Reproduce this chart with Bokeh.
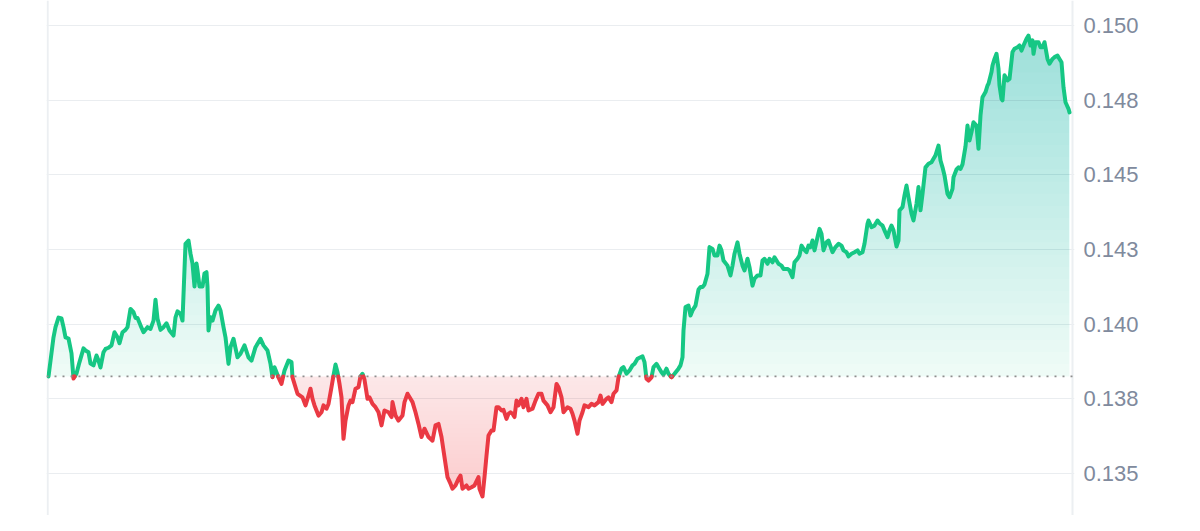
import numpy as np
from bokeh.plotting import figure
from bokeh.models import Range1d, FixedTicker, Span
from bokeh.embed import file_html
from bokeh.resources import INLINE

# minutes since the start of the window
times = [
    0, 5, 7, 10, 13, 15, 17, 20, 23, 25, 28, 31, 35, 37, 40, 42, 45, 48, 50, 52,
    55, 57, 60, 63, 66, 69, 71, 74, 77, 79, 82, 85, 87, 89, 92, 95, 99, 102, 105, 107,
    109, 112, 115, 118, 121, 125, 127, 129, 132,
    134, 137, 140, 142, 144, 146, 148, 149, 151, 154, 156, 158, 159, 160, 162, 164, 167, 170, 172, 175,
    177, 180, 182, 185, 189, 192, 196, 200, 203, 207, 212, 215, 219, 222, 224, 226, 230, 233, 236, 240,
    243, 244, 249, 254,
    257, 260, 262, 264, 266, 270, 273, 275, 278, 280, 283, 285, 287, 289, 291, 293, 295, 297, 300, 302,
    304, 307, 310, 312, 314, 316, 319, 321, 324, 327, 330, 333, 336, 340, 343, 344, 347, 350, 354, 356,
    359, 362, 364, 367, 370, 373, 376, 380, 384, 387, 390, 393, 395,
    399, 402, 404, 407, 410, 412, 414, 418, 420, 423, 426, 430, 431, 434, 436, 438, 440, 443, 445, 448,
    450, 453, 455, 458, 460, 462, 464, 466, 468, 470, 473, 475, 478, 480, 484, 487, 490, 493, 495, 499,
    502, 505, 508, 510, 513, 515, 519, 522, 524, 526,
    529, 531, 534, 536, 540, 543, 546, 550, 552, 554, 558, 560, 563, 565, 568, 570, 573, 575, 578, 581,
    584, 586, 589, 592, 594, 596, 598, 600, 603, 605, 608, 610, 613, 615, 618, 620, 623, 626, 630, 632,
    634, 635, 637, 640, 642, 644, 647, 650, 652, 654, 656, 659,
    661, 664, 666, 669, 671, 673, 675, 679, 682, 684, 686, 689, 691, 694, 696, 699, 701, 704, 706, 709,
    712, 714, 716, 719, 721, 724, 726, 730, 733, 735, 739, 741, 744, 746, 749, 751, 753, 755, 758, 760,
    762, 764, 766, 769, 771, 773, 775, 778, 780,
    784, 787, 790, 793, 795, 798, 800, 803, 806, 809, 811, 814, 816, 819, 820, 823, 826, 829, 831, 834,
    836, 839, 841, 843, 845, 848, 850, 851, 854, 856, 858, 860, 863, 865, 868, 870, 872, 874, 877, 880,
    883, 885, 887, 890, 892, 894, 896, 899, 901, 904, 905, 908, 910, 912, 914,
    917, 919, 921, 923, 925, 928, 930, 932, 934, 937, 939, 940, 943, 944, 946, 948, 950, 951, 953, 954,
    956, 959, 961, 964, 966, 969, 971, 973, 975, 978, 980, 982, 984, 985, 987, 990, 992, 994, 996, 999,
    1001, 1004, 1006, 1009, 1011, 1013, 1015, 1017, 1020, 1021,
]

prices = [
    0.13825, 0.13956, 0.13990, 0.14022, 0.14019, 0.13990, 0.13956, 0.13952, 0.13902, 0.13818,
    0.13835, 0.13873, 0.13919, 0.13912, 0.13906, 0.13868, 0.13862, 0.13895, 0.13878, 0.13855,
    0.13906, 0.13917, 0.13921, 0.13929, 0.13973, 0.13956, 0.13936, 0.13973, 0.13981, 0.13990,
    0.14051, 0.14040, 0.14021, 0.14021, 0.13996, 0.13973, 0.13990, 0.13984, 0.14012, 0.14082,
    0.14018, 0.13981, 0.13990, 0.14003, 0.13979, 0.13962, 0.14023, 0.14043, 0.14035,
    0.14012, 0.14269, 0.14280, 0.14236, 0.14203, 0.14126, 0.14203, 0.14180, 0.14126, 0.14126,
    0.14170, 0.14174, 0.14126, 0.13979, 0.14023, 0.14012, 0.14046, 0.14062, 0.14046, 0.13990,
    0.13956, 0.13867, 0.13923, 0.13951, 0.13889, 0.13901, 0.13929, 0.13889, 0.13878, 0.13923,
    0.13951, 0.13929, 0.13912, 0.13867, 0.13822, 0.13856, 0.13822, 0.13800, 0.13845, 0.13878,
    0.13873, 0.13822, 0.13767, 0.13755,
    0.13728, 0.13761, 0.13784, 0.13750, 0.13728, 0.13694, 0.13705, 0.13728, 0.13717, 0.13733,
    0.13789, 0.13828, 0.13865, 0.13839, 0.13800, 0.13755, 0.13616, 0.13677, 0.13728, 0.13744,
    0.13739, 0.13784, 0.13789, 0.13825, 0.13834, 0.13814, 0.13750, 0.13755, 0.13733, 0.13722,
    0.13705, 0.13661, 0.13711, 0.13705, 0.13689, 0.13739, 0.13694, 0.13677, 0.13694, 0.13739,
    0.13767, 0.13750, 0.13739, 0.13705, 0.13666, 0.13622, 0.13650, 0.13622, 0.13610, 0.13661,
    0.13666, 0.13622, 0.13577,
    0.13488, 0.13466, 0.13449, 0.13460, 0.13482, 0.13493, 0.13449, 0.13460, 0.13449, 0.13454,
    0.13460, 0.13488, 0.13449, 0.13423, 0.13488, 0.13560, 0.13627, 0.13644, 0.13644, 0.13722,
    0.13722, 0.13711, 0.13713, 0.13683, 0.13700, 0.13705, 0.13700, 0.13689, 0.13744, 0.13728,
    0.13750, 0.13722, 0.13750, 0.13711, 0.13717, 0.13744, 0.13767, 0.13767, 0.13744, 0.13728,
    0.13705, 0.13722, 0.13800, 0.13789, 0.13755, 0.13705, 0.13722, 0.13717, 0.13700, 0.13677,
    0.13633, 0.13677, 0.13705, 0.13728, 0.13722, 0.13733, 0.13728, 0.13739, 0.13761, 0.13733,
    0.13750, 0.13755, 0.13739, 0.13767, 0.13778, 0.13822, 0.13851, 0.13856, 0.13834, 0.13845,
    0.13862, 0.13867, 0.13884, 0.13889, 0.13892, 0.13873, 0.13817, 0.13811, 0.13822, 0.13856,
    0.13867, 0.13856, 0.13839, 0.13831, 0.13851, 0.13834, 0.13822, 0.13834, 0.13851, 0.13862,
    0.13889, 0.13979, 0.14057, 0.14062, 0.14029, 0.14046, 0.14062, 0.14116, 0.14124, 0.14124,
    0.14133, 0.14169,
    0.14258, 0.14252, 0.14230, 0.14230, 0.14263, 0.14247, 0.14213, 0.14196, 0.14163, 0.14196,
    0.14236, 0.14274, 0.14236, 0.14196, 0.14180, 0.14219, 0.14191, 0.14129, 0.14152, 0.14163,
    0.14163, 0.14213, 0.14219, 0.14202, 0.14219, 0.14207, 0.14224, 0.14202, 0.14196, 0.14185,
    0.14185, 0.14180, 0.14157, 0.14207, 0.14219, 0.14230, 0.14263, 0.14252, 0.14241, 0.14263,
    0.14258, 0.14280, 0.14247, 0.14291, 0.14319, 0.14303, 0.14247, 0.14274, 0.14280,
    0.14241, 0.14258, 0.14269, 0.14263, 0.14247, 0.14241, 0.14227, 0.14236, 0.14241, 0.14247,
    0.14236, 0.14241, 0.14269, 0.14336, 0.14347, 0.14325, 0.14330, 0.14347, 0.14338, 0.14330,
    0.14314, 0.14291, 0.14314, 0.14330, 0.14314, 0.14260, 0.14280, 0.14381, 0.14392, 0.14431,
    0.14464, 0.14425, 0.14370, 0.14347, 0.14403, 0.14459, 0.14381, 0.14436, 0.14525, 0.14537,
    0.14542, 0.14554, 0.14565, 0.14598, 0.14548, 0.14525, 0.14498, 0.14436, 0.14425, 0.14453,
    0.14492, 0.14518, 0.14525, 0.14520, 0.14535,
    0.14595, 0.14665, 0.14615, 0.14643, 0.14676, 0.14665, 0.14587, 0.14699, 0.14760, 0.14777,
    0.14799, 0.14805, 0.14844, 0.14866, 0.14888, 0.14905, 0.14855, 0.14799, 0.14754, 0.14749,
    0.14833, 0.14816, 0.14821, 0.14911, 0.14922, 0.14927, 0.14933, 0.14916, 0.14933, 0.14955,
    0.14966, 0.14933, 0.14950, 0.14905, 0.14944, 0.14944, 0.14927, 0.14927, 0.14944, 0.14888,
    0.14872, 0.14888, 0.14894, 0.14899, 0.14888, 0.14877, 0.14793, 0.14743, 0.14721, 0.14709,
]

tick_values = [0.135, 0.1375, 0.14, 0.1425, 0.145, 0.1475, 0.15]
tick_labels = ["0.135", "0.138", "0.140", "0.143", "0.145", "0.148", "0.150"]

assert len(times) == len(prices), (len(times), len(prices))

GREEN = "#16c784"
RED = "#ea3943"

t = np.array(times, dtype=float)
v = np.array(prices, dtype=float)
base = prices[0]


def split_at(tt, vv, level):
    """Insert the points where the series crosses `level`."""
    ts, vs = [tt[0]], [vv[0]]
    for i in range(1, len(tt)):
        a = vv[i - 1] - level
        b = vv[i] - level
        if a * b < 0:
            f = a / (a - b)
            ts.append(tt[i - 1] + f * (tt[i] - tt[i - 1]))
            vs.append(level)
        ts.append(tt[i])
        vs.append(vv[i])
    return np.array(ts), np.array(vs)


p = figure(
    width=1184, height=515,
    x_range=Range1d(-2, 1026),
    y_range=Range1d(0.133594, 0.150836),
    x_axis_location=None, y_axis_location="right",
    toolbar_location=None, output_backend="svg",
    min_border_left=46, min_border_right=110,
    min_border_top=0, min_border_bottom=0,
)
p.outline_line_color = None
p.background_fill_color = "white"
p.border_fill_color = "white"
p.xgrid.visible = False

ticker = FixedTicker(ticks=tick_values)
p.yaxis.ticker = ticker
p.ygrid.ticker = ticker
p.ygrid.grid_line_color = "#eaedf0"
p.ygrid.grid_line_width = 1
p.yaxis.major_label_overrides = dict(zip(tick_values, tick_labels))
p.yaxis.axis_line_color = None
p.yaxis.major_tick_line_color = None
p.yaxis.minor_tick_line_color = None
p.yaxis.major_tick_out = 0
p.yaxis.major_label_standoff = 9
p.yaxis.major_label_text_font = "Liberation Sans"
p.yaxis.major_label_text_font_size = "22px"
p.yaxis.major_label_text_color = "#808a9d"

# frame side lines
for loc in (-0.8, 1024):
    p.add_layout(Span(location=loc, dimension="height", line_color="#eceff2",
                      line_width=2, level="underlay"))

# gradient fills built from stacked translucent bands
N = 28
vmax = v.max()
vmin = v.min()
A0, A1 = 0.07, 0.34
prev = 0.0
for k in range(N):
    lo = base + k * (vmax - base) / N
    mid = base + (k + 0.5) * (vmax - base) / N
    target = A0 + (A1 - A0) * (mid - base) / (vmax - base)
    a = target if k == 0 else 1 - (1 - target) / (1 - prev)
    prev = target
    ts, vs = split_at(t, v, lo)
    p.varea(x=ts, y1=np.full(len(ts), lo), y2=np.maximum(vs, lo),
            fill_color=GREEN, fill_alpha=a)

R0, R1 = 0.12, 0.24
prev = 0.0
for k in range(N):
    hi = base - k * (base - vmin) / N
    mid = base - (k + 0.5) * (base - vmin) / N
    target = R0 + (R1 - R0) * (base - mid) / (base - vmin)
    a = target if k == 0 else 1 - (1 - target) / (1 - prev)
    prev = target
    ts, vs = split_at(t, v, hi)
    p.varea(x=ts, y1=np.minimum(vs, hi), y2=np.full(len(ts), hi),
            fill_color=RED, fill_alpha=a)

# baseline (opening price)
p.add_layout(Span(location=base, dimension="width", line_color="#8e8e8e",
                  line_width=1.8, line_dash="2 6"))

ts, vs = split_at(t, v, base)
g = np.where(vs >= base, vs, np.nan)
r = np.where(vs <= base, vs, np.nan)
p.line(ts, g, line_color=GREEN, line_width=4, line_join="round", line_cap="round")
p.line(ts, r, line_color=RED, line_width=4, line_join="round", line_cap="round")

open("out.html", "w").write(file_html(p, INLINE))
